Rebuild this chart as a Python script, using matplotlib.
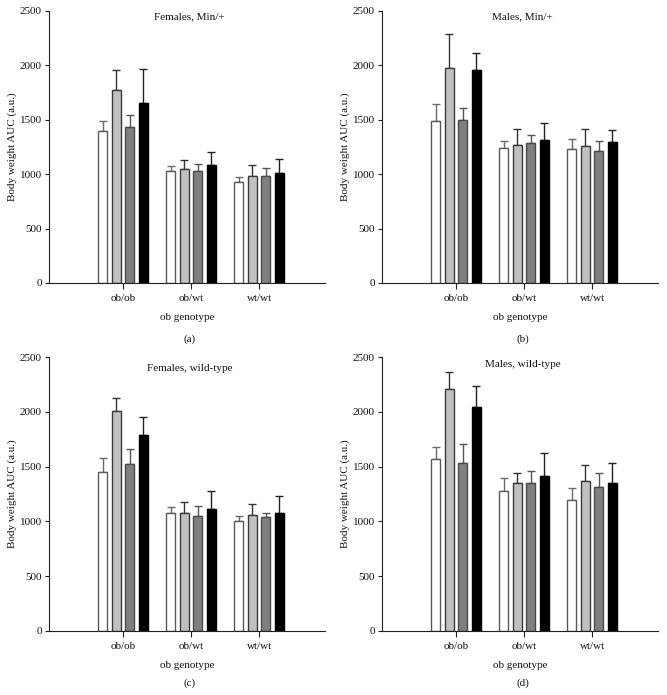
import matplotlib
matplotlib.use("Agg")
import matplotlib.pyplot as plt
import numpy as np

plt.rcParams['font.family'] = ['Liberation Serif', 'DejaVu Serif']

genotypes = ["ob/ob", "ob/wt", "wt/wt"]
panel_titles = ["Females, Min/+", "Males, Min/+", "Females, wild-type", "Males, wild-type"]
panel_letters = ["(a)", "(b)", "(c)", "(d)"]

# Mean values: rows = 4 series (white, light gray, dark gray, black), columns = genotypes
fem_min_mean = [[1401, 1025, 927], [1771, 1052, 985], [1431, 1025, 985], [1654, 1083, 1012]]
fem_min_err = [[85, 51, 43], [189, 79, 95], [113, 67, 73], [309, 122, 129]]

mal_min_mean = [[1489, 1242, 1232], [1979, 1266, 1257], [1495, 1291, 1214], [1960, 1312, 1300]]
mal_min_err = [[156, 67, 95], [312, 150, 162], [117, 73, 95], [156, 159, 110]]

fem_wt_mean = [[1451, 1073, 1003], [2006, 1079, 1055], [1527, 1049, 1037], [1793, 1116, 1073]]
fem_wt_err = [[131, 61, 49], [119, 95, 104], [135, 88, 36], [161, 164, 156]]

mal_wt_mean = [[1570, 1280, 1192], [2207, 1351, 1366], [1537, 1354, 1314], [2049, 1418, 1354]]
mal_wt_err = [[113, 119, 116], [156, 88, 152], [167, 109, 128], [192, 207, 176]]

means = [fem_min_mean, mal_min_mean, fem_wt_mean, mal_wt_mean]
errs = [fem_min_err, mal_min_err, fem_wt_err, mal_wt_err]

fills = ["#ffffff", "#c0c0c0", "#7f7f7f", "#000000"]
edges = ["#5a5a5a", "#3a3a3a", "#4a4a4a", "#000000"]
errcols = ["#6a6a6a", "#333333", "#555555", "#222222"]
offsets = [-0.30, -0.10, 0.10, 0.30]
bar_w = 0.13

W, H = 667, 695
fig = plt.figure(figsize=(W / 100, H / 100), dpi=100)

# axes boxes in pixel coords: (left, top, right, bottom)
boxes = [(49, 11, 325, 283), (382, 11, 658, 283), (49, 357.3, 325, 630.7), (382, 357.3, 658, 630.7)]
title_y = [0.979, 0.979, 0.96, 0.972]
letter_y = [339, 339, 683, 683]
txt = "#111111"
fs = 8

for i, (l, t, r, b) in enumerate(boxes):
    ax = fig.add_axes([l / W, 1 - b / H, (r - l) / W, (b - t) / H])
    x = np.arange(len(genotypes))
    for s in range(4):
        ax.bar(x + offsets[s], means[i][s], width=bar_w, color=fills[s],
               edgecolor=edges[s], linewidth=1.0, zorder=2)
        ax.errorbar(x + offsets[s], means[i][s], yerr=[np.zeros(3), errs[i][s]],
                    fmt='none', ecolor=errcols[s], elinewidth=1.0, capsize=3,
                    capthick=1.0, zorder=1)
    ax.set_xlim(-1.09, 2.97)
    ax.set_ylim(0, 2500)
    ax.set_yticks([0, 500, 1000, 1500, 2000, 2500])
    ax.set_xticks(x)
    ax.set_xticklabels(genotypes)
    for sp in ["top", "right"]:
        ax.spines[sp].set_visible(False)
    for sp in ["left", "bottom"]:
        ax.spines[sp].set_linewidth(0.8)
        ax.spines[sp].set_color("#222222")
    ax.tick_params(axis='y', direction='out', length=3, width=0.8, pad=2, labelsize=fs,
                   color="#222222", labelcolor=txt)
    ax.tick_params(axis='x', direction='out', length=4, width=0.8, pad=4, labelsize=fs,
                   color="#222222", labelcolor=txt)
    ax.set_xlabel("ob genotype", fontsize=fs, labelpad=7, color=txt)
    ax.set_ylabel("Body weight AUC (a.u.)", fontsize=fs, labelpad=2, color=txt)
    ax.text(0.51, title_y[i], panel_titles[i], transform=ax.transAxes,
            ha='center', va='center', fontsize=fs, color=txt)
    fig.text((l + r) / 2 / W + 0.004, 1 - letter_y[i] / H, panel_letters[i],
             ha='center', va='center', fontsize=fs, color=txt)

fig.savefig("out.png", dpi=100)
